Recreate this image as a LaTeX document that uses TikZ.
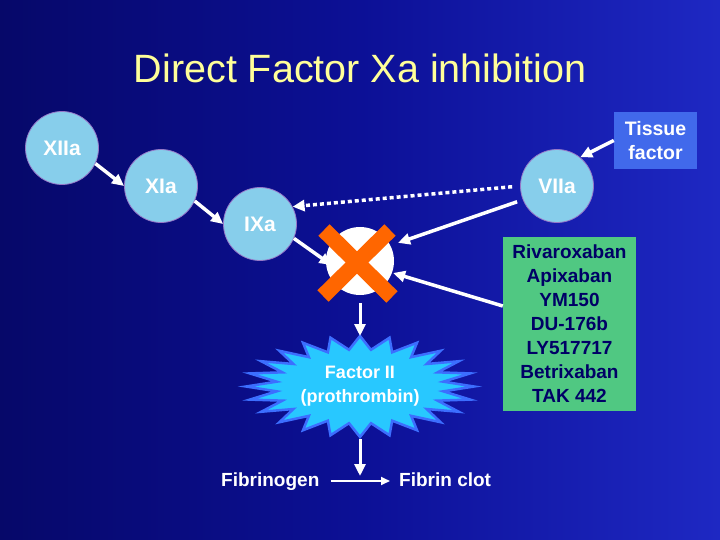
\documentclass[tikz,border=0pt]{standalone}
\usepackage{fontspec}
\setmainfont{Liberation Sans}
\usetikzlibrary{arrows.meta, positioning}

\definecolor{slidenavy}{RGB}{6,8,105}
\definecolor{slidemid}{RGB}{12,16,150}
\definecolor{slideblue}{RGB}{30,40,195}
\definecolor{titleyellow}{RGB}{255,255,153}
\definecolor{factorblue}{RGB}{135,206,235}
\definecolor{factorrim}{RGB}{150,120,200}
\definecolor{tissueblue}{RGB}{65,105,235}
\definecolor{drugsgreen}{RGB}{80,200,130}
\definecolor{drugnavy}{RGB}{0,0,102}
\definecolor{crossorange}{RGB}{255,102,0}
\definecolor{starcyan}{RGB}{40,200,255}
\definecolor{starrim}{RGB}{60,110,255}

\tikzset{
    heading/.style={text=titleyellow, font=\fontsize{39.5}{44}\selectfont},
    factor/.style={circle, fill=factorblue, draw=factorrim, line width=0.8pt,
        minimum size=73pt, inner sep=0pt, text=white,
        font=\bfseries\fontsize{21}{24}\selectfont},
    cofactor/.style={rectangle, fill=tissueblue, text=white, align=center,
        minimum width=83pt, minimum height=57pt, inner sep=0pt,
        font=\bfseries\fontsize{19.5}{24}\selectfont},
    drugbox/.style={rectangle, fill=drugsgreen, text=drugnavy, align=center,
        minimum width=133pt, minimum height=174pt, inner sep=0pt,
        font=\bfseries\fontsize{19}{24}\selectfont},
    target/.style={circle, fill=white, minimum size=68pt, inner sep=0pt},
    product/.style={text=white, align=center, font=\bfseries\fontsize{18}{24}\selectfont},
    endpoint/.style={text=white, inner sep=0pt, text height=14pt, text depth=4pt,
        font=\bfseries\fontsize{19}{22}\selectfont},
    flow/.style={-{Triangle[length=12pt,width=11pt]}, draw=white, line width=3.5pt},
    dottedflow/.style={flow, dash pattern=on 4pt off 3pt},
    thinflow/.style={-{Triangle[length=9pt,width=8pt]}, draw=white, line width=2pt},
    block/.style={draw=crossorange, line width=16pt},
}

\begin{document}
\begin{tikzpicture}[x=1pt, y=-1pt]
    \useasboundingbox (0,0) rectangle (720,540);
    \shade[left color=slidenavy, right color=slideblue, middle color=slidemid] (0,0) rectangle (720,540);

    \node[heading]              (title)   at (360,68)     {Direct Factor Xa inhibition};

    \node[factor]               (f_12a)   at (62,148)     {XIIa};
    \node[factor]               (f_11a)   at (161,186)    {XIa};
    \node[factor]               (f_9a)    at (260,224)    {IXa};
    \node[factor]               (f_7a)    at (557,186)    {VIIa};
    \node[cofactor]             (tf)      at (655.5,140.5) {Tissue\\factor};
    \node[target]               (xa)      at (360,261)    {};
    \node[drugbox]              (drugs)   at (569.5,324)  {Rivaroxaban\\Apixaban\\YM150\\DU-176b\\LY517717\\Betrixaban\\TAK 442};

    % factor II star
    \begin{scope}[shift={(360,386.5)}]
        \draw[starrim, fill=starcyan, line width=2.5pt]
            plot[samples at={0,...,47}] ({ifthenelse(mod(\x,2)==0,114,84)*cos(90+7.5*\x)}, {ifthenelse(mod(\x,2)==0,50.5,37)*sin(90+7.5*\x)}) -- cycle;
        \coordinate (f_2n) at (0,-50.5);
        \coordinate (f_2s) at (0,50.5);
    \end{scope}
    \node[product]              (f_2)     at (360,386.5)  {Factor II\\(prothrombin)};

    \node[endpoint, anchor=base west] (fib)   at (221,486) {Fibrinogen};
    \node[endpoint, anchor=base west] (clot)  at (399,486) {Fibrin clot};
    \coordinate (join) at (360,476);

    % inhibition cross
    \begin{scope}[shift={(xa.center)}]
        \draw[block] (-36,-31) -- (32,36);
        \draw[block] (30,-31) -- (-37,35);
    \end{scope}

    \draw[flow] (f_12a.-25) -- (f_11a.west);
    \draw[flow] (f_11a.-24) -- (f_9a.west);
    \draw[flow, shorten >=-7pt] (f_9a.-23) -- (xa.west);
    \draw[flow] (tf.west) -- (f_7a.51);
    \draw[flow, shorten <=6pt, shorten >=8pt] (f_7a.202) -- (xa.27);
    \draw[flow, shorten >=1pt] ([yshift=18pt]drugs.west) -- (xa.-20);
    \draw[dottedflow, shorten <=8pt] (f_7a.west) -- (f_9a.28);
    \draw[flow, line width=3pt, shorten <=8pt] (xa.south) -- (f_2n);
    \draw[flow, line width=3pt, shorten <=2pt] (f_2s) -- (join);
    \draw[thinflow, shorten <=11pt, shorten >=9pt] (fib.east) -- (clot.west);
\end{tikzpicture}
\end{document}
